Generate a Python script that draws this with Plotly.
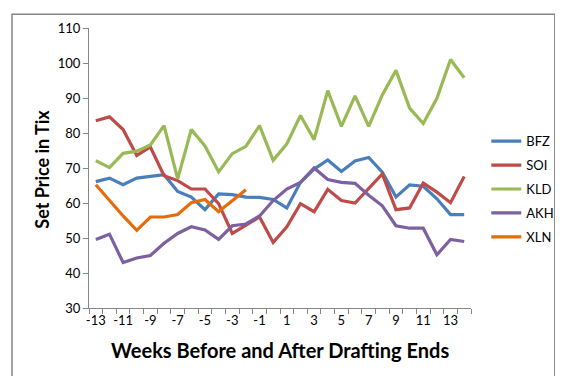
import plotly.graph_objects as go

weeks = list(range(-13, 15))
bfz = [66.1, 67.1, 65.2, 67.1, 67.6, 68.1, 63.3, 61.7, 58.1, 62.6, 62.4, 61.7, 61.6, 61.0,
       58.6, 65.9, 69.7, 72.3, 69.0, 72.0, 73.0, 68.8, 61.7, 65.2, 64.8, 61.2, 56.7, 56.7]
soi = [83.5, 84.6, 81.0, 73.6, 76.0, 67.8, 66.4, 64.0, 64.0, 59.8, 51.3, 53.7, 56.0, 48.7,
       53.2, 59.8, 57.5, 63.9, 60.7, 60.0, 64.2, 68.3, 58.1, 58.6, 65.7, 63.1, 60.1, 67.6]
kld = [72.1, 70.1, 74.2, 74.8, 76.6, 82.1, 66.9, 81.0, 76.3, 68.9, 74.1, 76.2, 82.1, 72.2,
       76.9, 85.0, 78.1, 92.1, 81.9, 90.6, 81.9, 90.9, 97.9, 87.1, 82.7, 89.9, 101.0, 95.8]
akh = [49.6, 51.1, 43.0, 44.3, 45.0, 48.5, 51.3, 53.2, 52.3, 49.6, 53.5, 54.0, 56.3, 60.7,
       64.0, 65.9, 70.0, 66.7, 65.9, 65.6, 62.2, 59.2, 53.5, 52.8, 52.8, 45.2, 49.6, 49.0]
xln = [65.2, 60.7, 56.3, 52.2, 56.0, 56.0, 56.7, 60.1, 61.0, 57.5, 60.7, 63.8]
xln_weeks = weeks[:len(xln)]

series = [
    ("BFZ", weeks, bfz, "#4A7EBB"),
    ("SOI", weeks, soi, "#BE4B48"),
    ("KLD", weeks, kld, "#98B954"),
    ("AKH", weeks, akh, "#7D60A0"),
    ("XLN", xln_weeks, xln, "#E46C0A"),
]

x_labels = list(range(-13, 15, 2))
y_ticks = list(range(30, 111, 10))

FONT = "Lato"

fig = go.Figure()
for name, xs, ys, col in series:
    fig.add_trace(go.Scatter(x=xs, y=ys, mode="lines", name=name, legendgroup=name,
                             line=dict(color=col, width=3.2)))

fig.update_layout(
    width=563, height=376,
    margin=dict(l=81, r=90, t=17, b=76),
    paper_bgcolor="white", plot_bgcolor="white",
    font=dict(family=FONT, size=13, color="black"),
    showlegend=True,
    legend=dict(x=1.04, y=(300 - 180) / 283, xanchor="left", yanchor="middle",
                font=dict(family=FONT, size=13, color="black"),
                tracegroupgap=4, itemwidth=30, bgcolor="rgba(0,0,0,0)"),
    xaxis=dict(range=[-13.5, 14.5], tickmode="array", tickvals=x_labels,
               ticktext=[str(v) for v in x_labels], ticks="", showgrid=False,
               zeroline=False, showline=True, linecolor="#868686", linewidth=1,
               tickfont=dict(size=13),
               minor=dict(tickmode="array", tickvals=[v + 0.5 for v in range(-14, 15)],
                          ticks="outside", ticklen=5, tickcolor="#868686", showgrid=False)),
    yaxis=dict(range=[30, 110], tickmode="array", tickvals=y_ticks, ticks="outside",
               ticklen=5, tickcolor="#868686", showgrid=False, zeroline=False,
               showline=True, linecolor="#868686", linewidth=1, tickfont=dict(size=13)),
    shapes=[dict(type="rect", xref="paper", yref="paper",
                 x0=(2 - 81) / 392, x1=(559 - 81) / 392,
                 y0=(300 - 372) / 283, y1=(300 - 3) / 283,
                 line=dict(color="#868686", width=1.5), layer="below")],
    annotations=[
        dict(text="<b>Weeks Before and After Drafting Ends</b>", xref="paper", yref="paper",
             x=(277 - 81) / 392, y=(300 - 342) / 283, xanchor="center", yanchor="middle",
             showarrow=False, font=dict(family=FONT, size=20, color="black")),
        dict(text="<b>Set Price in Tix</b>", xref="paper", yref="paper",
             x=(33 - 81) / 392, y=(300 - 160) / 283, xanchor="center", yanchor="middle",
             textangle=-90, showarrow=False, font=dict(family=FONT, size=18, color="black")),
    ],
)

fig.write_html("out.html")
